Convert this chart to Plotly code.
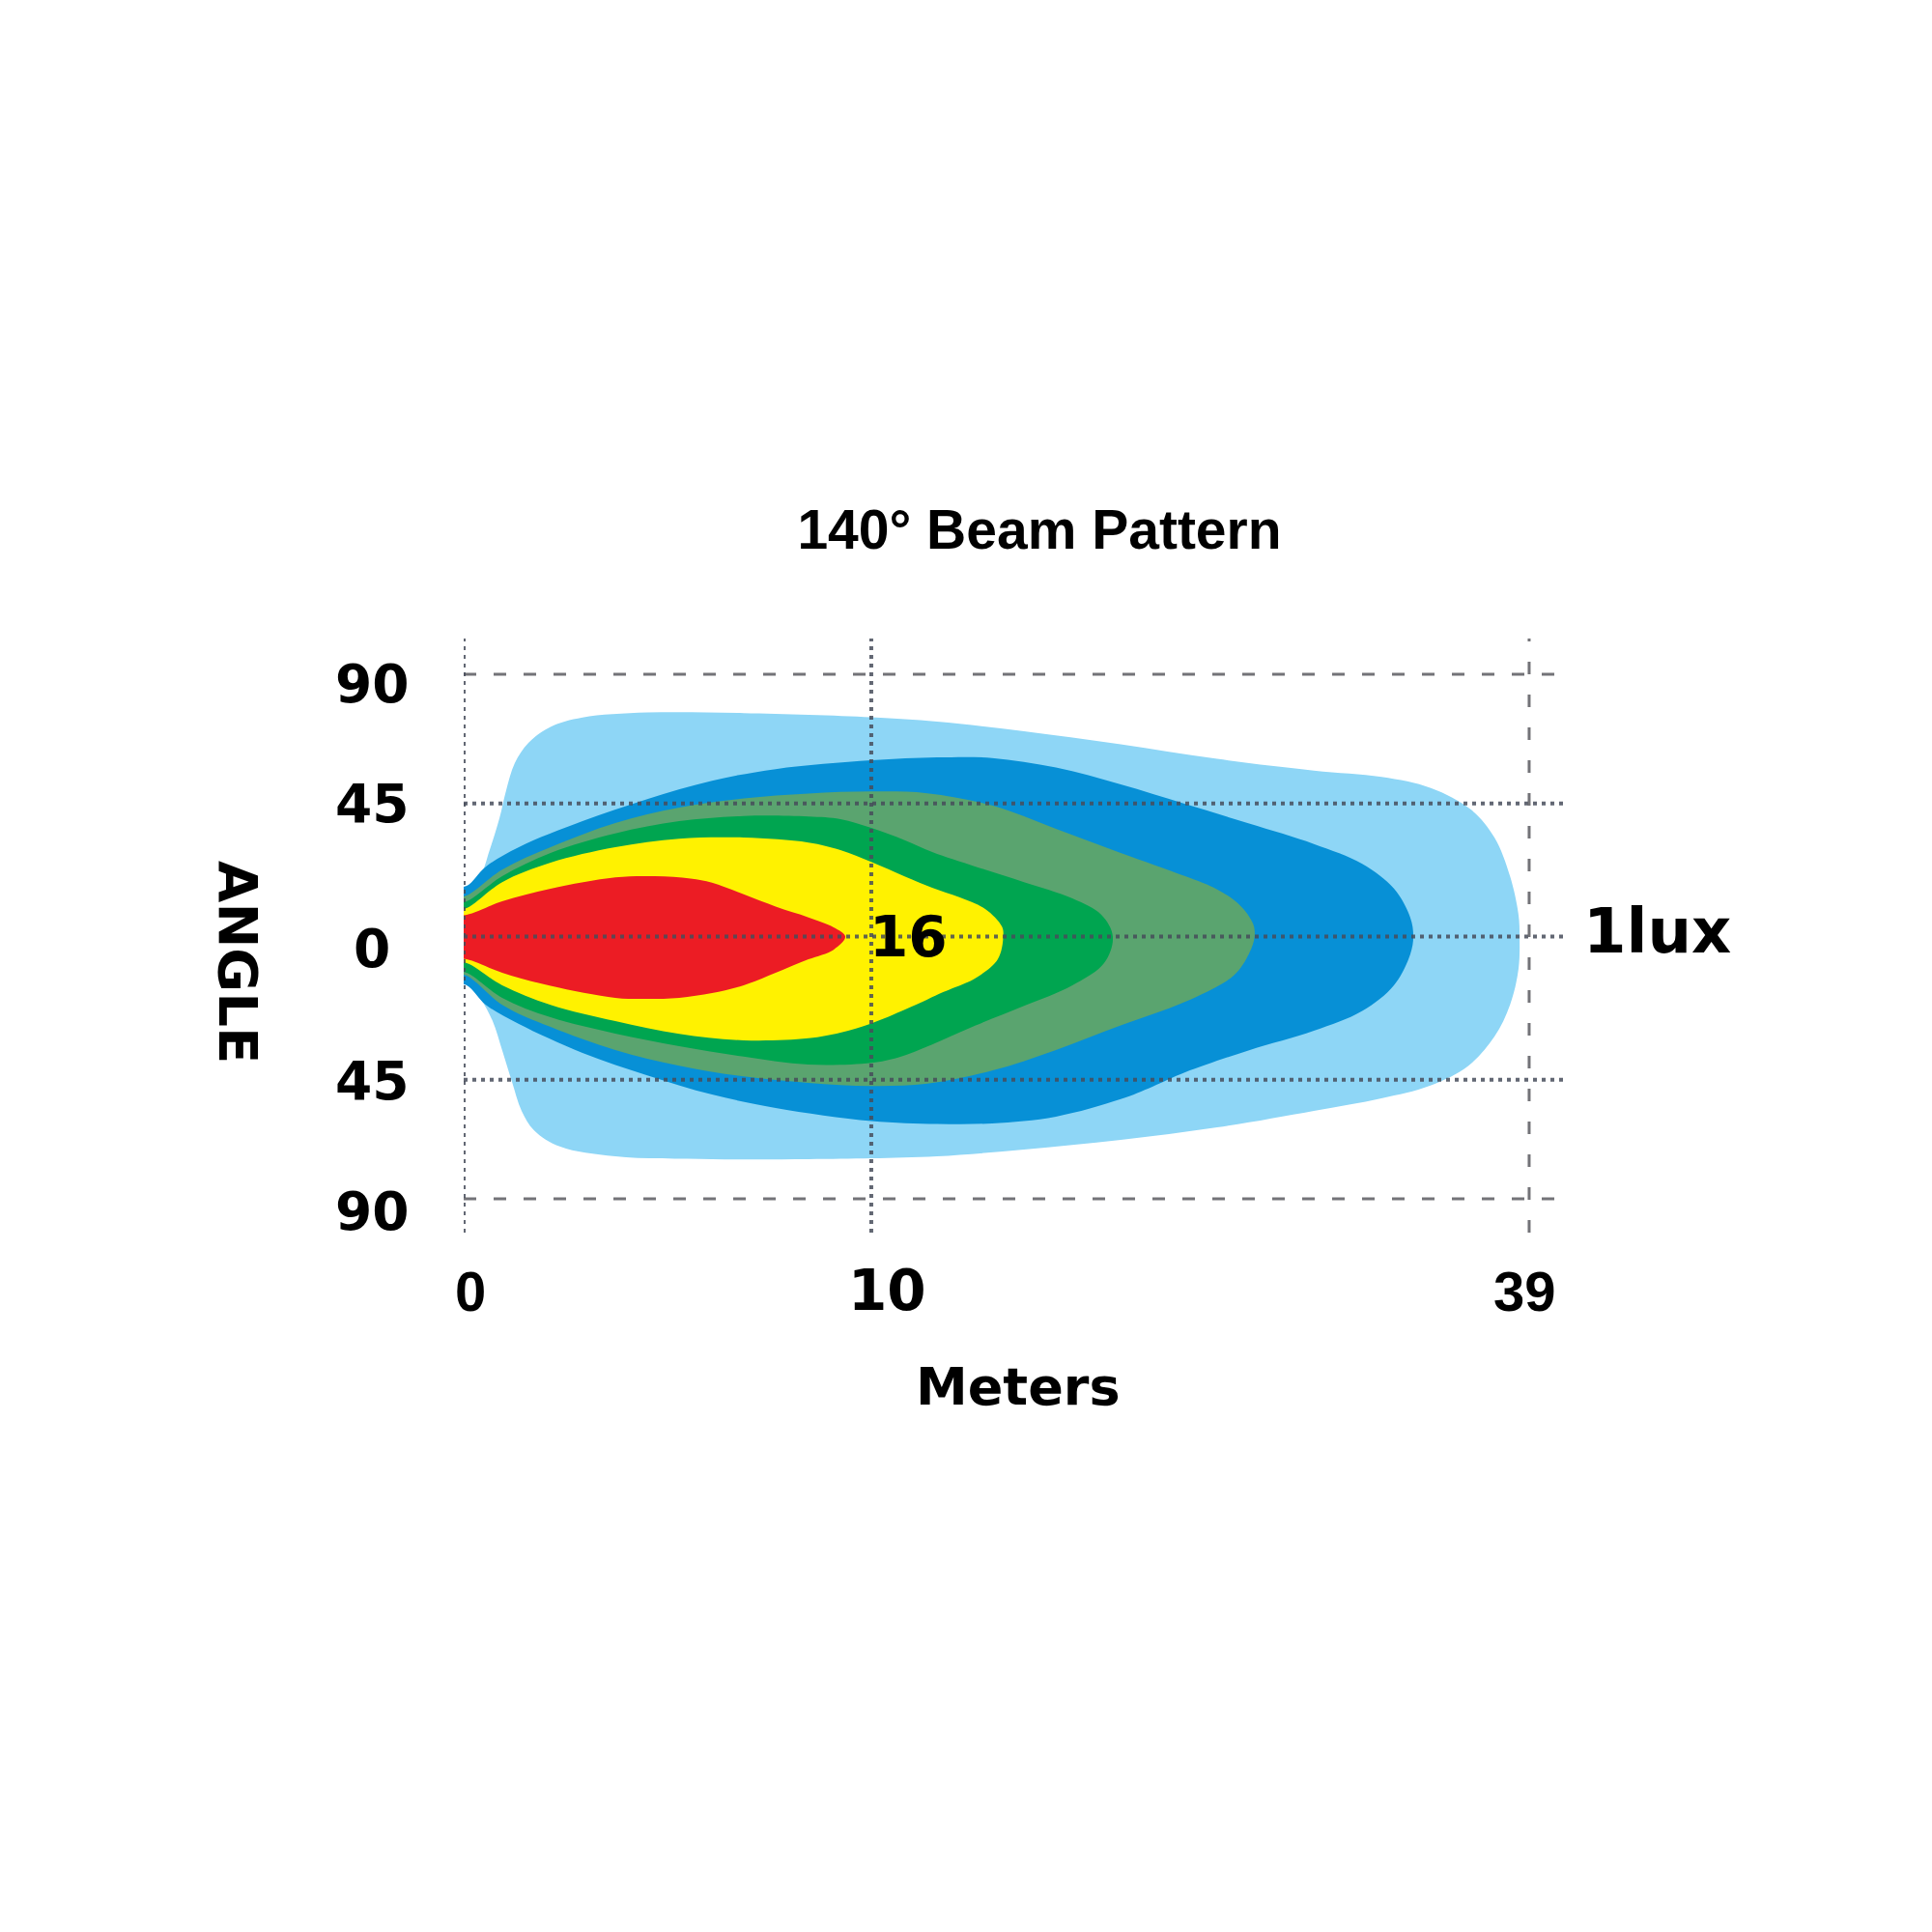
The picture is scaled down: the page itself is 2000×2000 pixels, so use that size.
import plotly.graph_objects as go

# ---------------- data ----------------
x_tick_pos = [0, 14.92, 39]
x_tick_text = ["0", "10", "39"]
y_tick_pos = [90, 45.7, 0, -49.1, -90]
y_tick_text = ["90", "45", "0", "45", "90"]

# illumination zones, outermost (1 lux) to innermost; outlines as (distance, angle)
light_blue_x = [-0.3, 0.11, 0.60, 0.95, 1.31, 1.55, 1.87, 2.37, 3.18, 4.35, 6.72, 10.25, 14.92, 17.33,
                20.51, 24.05, 27.58, 31.12, 33.6, 35.4, 36.88, 37.73, 38.30, 38.61, 38.65,
                38.61, 38.30, 37.73, 36.78, 35.36, 33.59, 31.12, 27.58, 24.05, 20.51, 17.33, 14.92,
                12.62, 9.09, 5.55, 3.54, 2.58, 2.12, 1.77, 1.41, 1.06, 0.60, 0.11, -0.3]
light_blue_y = [16.0, 16.4, 20.7, 29.7, 40.6, 50.0, 59.5, 66.5, 72.0, 75.2, 76.9, 76.7, 75.3, 73.8,
                70.5, 66.0, 61.0, 57.0, 54.8, 51.0, 43.5, 34.0, 20.7, 7.5, 0,
                -11.1, -23.4, -34.3, -44.3, -51.2, -55.5, -59.8, -65.5, -69.8, -73.1, -75.4, -76.1,
                -76.4, -76.4, -75.4, -72.1, -66.5, -59.8, -49.9, -39.0, -29.0, -21.0, -15.7, -15.5]

dark_blue_x = [-0.3, 0.11, 0.81, 2.02, 4.35, 6.72, 9.09, 11.42, 14.92, 17.33, 19.34, 21.68, 24.05, 26.41,
               28.75, 31.12, 32.89, 34.05, 34.65, 34.76,
               34.65, 34.05, 32.89, 31.12, 28.75, 26.41, 25.21, 24.05, 21.68, 19.34, 17.33, 14.92,
               11.42, 9.09, 6.72, 4.35, 2.02, 0.81, 0.11, -0.3]
dark_blue_y = [17.0, 17.4, 24.0, 30.7, 39.6, 47.2, 53.5, 57.5, 60.5, 61.5, 61.3, 58.0, 52.2, 45.5,
               38.8, 31.8, 25.0, 16.5, 6.5, 0,
               -6.0, -16.7, -25.5, -32.3, -39.0, -46.6, -51.5, -55.8, -61.8, -64.1, -64.3, -63.3,
               -58.8, -54.2, -47.6, -39.9, -30.0, -23.4, -16.7, -16.5]

gray_green_x = [-0.3, 0.11, 1.41, 3.18, 5.55, 7.89, 10.25, 12.62, 14.92, 16.97, 19.34, 21.68, 24.05, 26.41,
                27.58, 28.39, 28.89, 28.95,
                28.75, 28.18, 26.41, 24.05, 21.68, 19.34, 16.97, 14.92, 12.62, 10.25, 7.89, 5.55,
                3.18, 1.41, 0.11, -0.3]
gray_green_y = [13.5, 14.1, 23.0, 30.7, 39.0, 44.3, 47.4, 49.1, 49.8, 49.2, 45.0, 37.0, 28.7, 20.7,
                16.2, 11.0, 4.5, 0,
                -5.8, -13.4, -22.4, -30.5, -38.9, -46.0, -50.5, -51.3, -50.2, -48.0, -44.3, -38.9,
                -31.0, -23.4, -13.4, -13.0]

green_x = [-0.3, 0.11, 1.41, 3.18, 5.55, 7.89, 10.25, 12.62, 13.79, 14.92, 16.16, 17.15, 18.74, 20.51,
           22.28, 23.34, 23.76,
           23.44, 22.28, 20.51, 18.74, 17.15, 15.9, 14.92, 12.62, 10.25, 7.89, 5.55, 3.18, 1.41,
           0.11, -0.3]
green_y = [11.5, 12.1, 20.7, 28.7, 35.4, 39.6, 41.4, 41.2, 40.3, 37.3, 33.0, 29.0, 24.0, 18.7,
           13.1, 7.5, 0,
           -9.1, -16.7, -23.8, -30.5, -37.0, -41.5, -43.3, -43.9, -41.2, -37.6, -33.3, -27.7, -21.0,
           -12.4, -12.0]

yellow_x = [-0.3, 0.11, 1.41, 3.18, 5.55, 7.89, 10.25, 12.62, 13.79, 14.92, 16.16, 17.15, 18.14, 19.09,
            19.70, 19.75,
            19.55, 18.74, 17.57, 16.97, 16.16, 14.92, 13.79, 12.62, 10.25, 7.89, 5.55, 3.18, 1.41,
            0.11, -0.3]
yellow_y = [9.5, 9.8, 18.7, 25.4, 30.7, 33.6, 34.0, 32.3, 29.7, 25.6, 20.6, 16.8, 13.5, 9.5,
            3.5, 0,
            -7.8, -14.2, -19.0, -21.6, -25.0, -29.8, -33.0, -34.9, -35.6, -33.4, -29.0, -23.4, -16.7,
            -9.1, -9.0]

red_x = [-0.3, 0.11, 1.41, 3.18, 5.55, 7.0, 8.3, 9.09, 10.25, 11.42, 12.62, 13.54, 13.97,
         13.54, 12.62, 11.42, 10.25, 9.09, 7.89, 6.7, 5.55, 3.18, 1.41, 0.11, -0.3]
red_y = [7.3, 7.5, 12.1, 16.4, 20.3, 20.7, 19.9, 18.5, 14.5, 10.3, 6.6, 3.2, 0,
         -4.5, -7.8, -12.4, -16.7, -19.4, -21.0, -21.4, -21.0, -16.9, -12.4, -7.8, -7.6]

zone_x = [light_blue_x, dark_blue_x, gray_green_x, green_x, yellow_x, red_x]
zone_y = [light_blue_y, dark_blue_y, gray_green_y, green_y, yellow_y, red_y]
zone_colors = ["#8ED6F6", "#0790D6", "#5AA46F", "#00A550", "#FFF200", "#EC1C24"]

# ---------------- figure ----------------
fig = go.Figure()
for xs, ys, col in zip(zone_x, zone_y, zone_colors):
    fig.add_trace(go.Scatter(
        x=xs, y=ys, mode="lines", fill="toself", fillcolor=col,
        line=dict(width=0, color=col, shape="spline", smoothing=1.0),
        hoverinfo="skip", showlegend=False,
    ))

X_END = 40.38
Y_BOT, Y_TOP = -101.6, 102.3
DOT = dict(color="rgba(70,76,90,0.85)", width=4, dash="4px,5px")
DASH = dict(color="rgba(100,100,105,0.9)", width=3, dash="13px,18px")
VDASH = dict(color="rgba(100,100,105,0.9)", width=3, dash="13px,21px")

shapes = []
for yv in y_tick_pos:
    style = DASH if abs(yv) == 90 else DOT
    shapes.append(dict(type="line", xref="x", yref="y", x0=0, x1=X_END, y0=yv, y1=yv,
                       line=style, layer="above"))
for i, xv in enumerate(x_tick_pos):
    style = VDASH if i == len(x_tick_pos) - 1 else DOT
    shapes.append(dict(type="line", xref="x", yref="y", x0=xv, x1=xv, y0=Y_BOT, y1=Y_TOP,
                       line=style, layer="above"))

annotations = []
y_label_shift = [-10, 0, -12, -1, -13]
for yv, txt, sh in zip(y_tick_pos, y_tick_text, y_label_shift):
    annotations.append(dict(text=txt, xref="paper", x=0, xshift=-95, xanchor="center",
                            yref="y", y=yv, yshift=sh, yanchor="middle", showarrow=False,
                            font=dict(family="DejaVu Sans", size=55, color="black", weight="bold")))
x_label_font = ["Liberation Sans", "DejaVu Sans", "Liberation Sans"]
x_label_shift = [7, 17, -4]
for xv, txt, fam, sh in zip(x_tick_pos, x_tick_text, x_label_font, x_label_shift):
    annotations.append(dict(text=txt, xref="x", x=xv, xshift=sh, xanchor="center",
                            yref="paper", y=0, yshift=-60, yanchor="middle", showarrow=False,
                            font=dict(family=fam, size=58, color="black", weight="bold")))

annotations += [
    dict(text="ANGLE", textangle=90, xref="paper", x=0, xshift=-233, xanchor="center",
         yref="y", y=-8.8, yanchor="middle", showarrow=False,
         font=dict(family="DejaVu Sans", size=56, color="black", weight="bold")),
    dict(text="Meters", xref="paper", x=0.5026, xanchor="center",
         yref="paper", y=0, yshift=-159, yanchor="middle", showarrow=False,
         font=dict(family="DejaVu Sans", size=54, color="black", weight="bold")),
    dict(text="16", xref="x", x=x_tick_pos[1], xshift=-4, xanchor="left",
         yref="y", y=0, yshift=0, yanchor="middle", showarrow=False,
         font=dict(family="DejaVu Sans", size=58, color="black", weight="bold")),
    dict(text="1lux", xref="x", x=x_tick_pos[2], xshift=54, xanchor="left",
         yref="y", y=0, yshift=6, yanchor="middle", showarrow=False,
         font=dict(family="DejaVu Sans", size=64, color="black", weight="bold")),
]

fig.update_layout(
    width=1984, height=1984,
    margin=dict(l=472, r=370, t=653, b=716),
    paper_bgcolor="white", plot_bgcolor="white",
    showlegend=False,
    title=dict(text="140° Beam Pattern", xref="container", yref="container",
               x=0.5383, y=0.7278, xanchor="center", yanchor="middle",
               font=dict(family="Liberation Sans", size=57, color="black", weight="bold")),
    xaxis=dict(range=[0, X_END], visible=False, fixedrange=True),
    yaxis=dict(range=[Y_BOT, Y_TOP], visible=False, fixedrange=True),
    shapes=shapes,
    annotations=annotations,
)

fig.write_html("out.html")
